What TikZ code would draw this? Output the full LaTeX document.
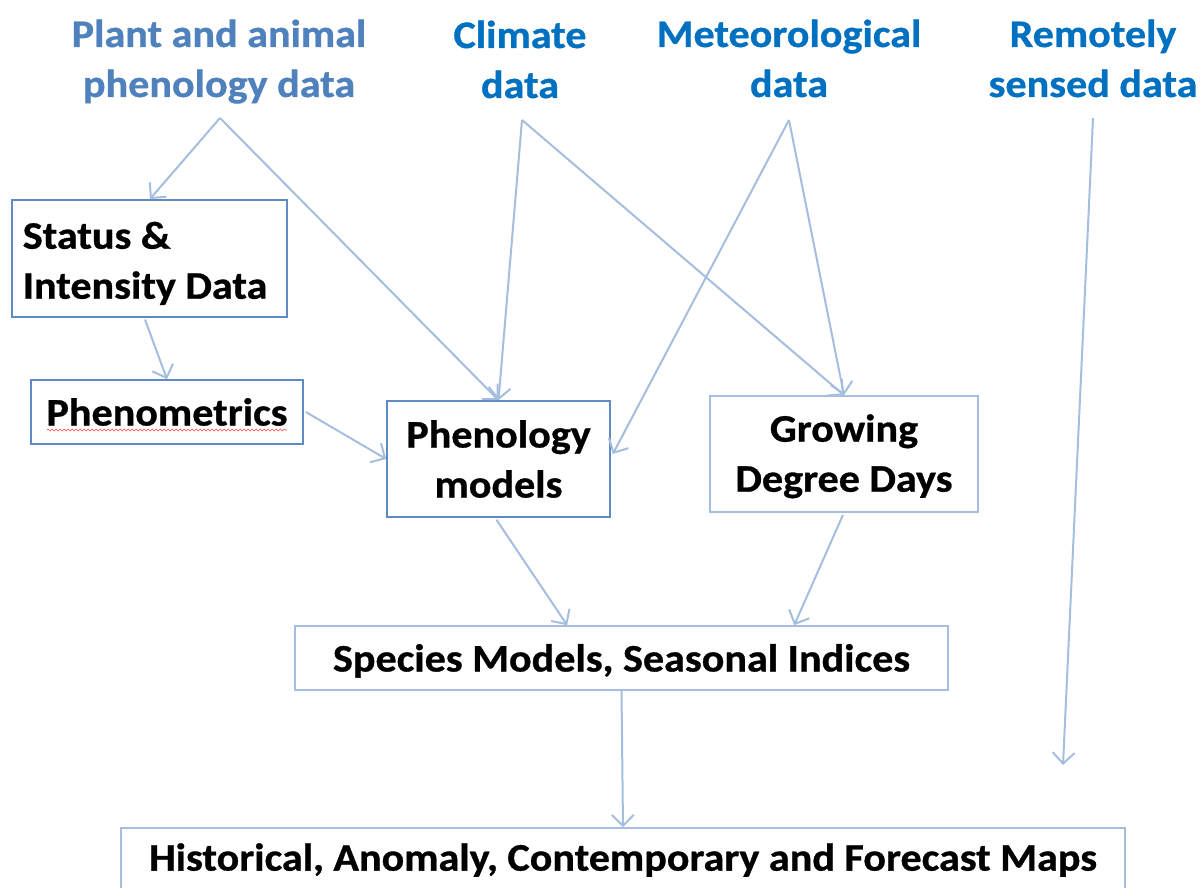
\documentclass[tikz,border=0pt]{standalone}
\usepackage{fontspec}
\setmainfont{Carlito}[FakeStretch=1.08, BoldFeatures={FakeBold=0.8}]
\usetikzlibrary{arrows.meta,calc,decorations.pathmorphing}
\definecolor{srcA}{HTML}{4F81BD}
\definecolor{srcB}{HTML}{0070C0}
\definecolor{edgec}{HTML}{A5BEDE}
\definecolor{boxA}{HTML}{5F8AC4}
\definecolor{boxB}{HTML}{A5BEDE}
\newcommand\ctrtwo[2]{\vtop{\halign{\hfil##\hfil\cr #1\cr #2\cr}}}
\begin{document}
\begin{tikzpicture}[x=1pt,y=-1pt,
  txt/.style={font=\fontsize{39}{50}\selectfont\bfseries, inner sep=0pt},
  src/.style={txt, anchor=base, text=srcB},
  boxa/.style={txt, draw=boxA, line width=1.6pt, align=center},
  boxb/.style={txt, draw=boxB, line width=1.6pt, align=center},
  conn/.style={draw=edgec, line width=2pt, -{Straight Barb[length=11pt,width=22pt]}}
]
\useasboundingbox (0,0) rectangle (1201,888);

% source labels
\node[src, text=srcA] (plant) at (219,47) {\ctrtwo{Plant and animal}{phenology data}};
\node[src] (climate) at (520,48) {\ctrtwo{Climate}{data}};
\node[src] (meteo) at (789,47) {\ctrtwo{Meteorological}{data}};
\node[src] (remote) at (1093,47) {\ctrtwo{Remotely}{sensed data}};

\coordinate (plantout) at (220,118);
\coordinate (climateout) at (522,120);
\coordinate (meteoout) at (789,120);
\coordinate (remoteout) at (1093,118);
\coordinate (remoteend) at (1063,765);

% boxes
\node[boxa, anchor=north west, minimum height=117pt, inner xsep=11pt,
      text width=253pt, align=flush left] (status) at (11,199) {\rule{0pt}{37pt}Status \&\\Intensity Data};
\node[boxa, minimum width=272pt, minimum height=64pt] (phm) at (167,412) {Phenometrics};
\node[boxa, minimum width=223pt, minimum height=116pt] (pm) at (498.5,459) {Phenology\\models};
\node[boxb, minimum width=268pt, minimum height=116pt] (gdd) at (844,454) {\rule{0pt}{32pt}Growing\\Degree Days};
\node[boxb, minimum width=653pt, minimum height=64pt, text height=31pt, text depth=4pt] (species) at (621.5,658) {Species Models, Seasonal Indices};
\node[boxb, minimum width=1004pt, minimum height=64pt] (maps) at (623,860) {Historical, Anomaly, Contemporary and Forecast Maps};

% spell-check squiggle
\draw[red!75, line width=0.6pt, decorate, decoration={snake, amplitude=0.9pt, segment length=4pt}]
  ($(phm.center)+(-120,18)$) -- ($(phm.center)+(120,18)$);

% connectors
\draw[conn] (plantout) -- ($(status.north west)+(139,0)$);
\draw[conn] (plantout) -- (pm.north);
\draw[conn] (climateout) -- (pm.north);
\draw[conn] (climateout) -- (gdd.north);
\draw[conn] (meteoout) -- ($(pm.east)+(2,-5)$);
\draw[conn] (meteoout) -- (gdd.north);
\draw[conn] (remoteout) -- (remoteend);
\draw[conn] ($(status.south west)+(134,2)$) -- (phm.north);
\draw[conn] ($(phm.east)+(2,0)$) -- (pm.west);
\draw[conn] ($(pm.south)+(-2,2)$) -- ($(species.north west)+(273,0)$);
\draw[conn] ($(gdd.south)+(-1,2)$) -- ($(species.north west)+(500,0)$);
\draw[conn] (species.south) -- (maps.north);
\end{tikzpicture}
\end{document}
